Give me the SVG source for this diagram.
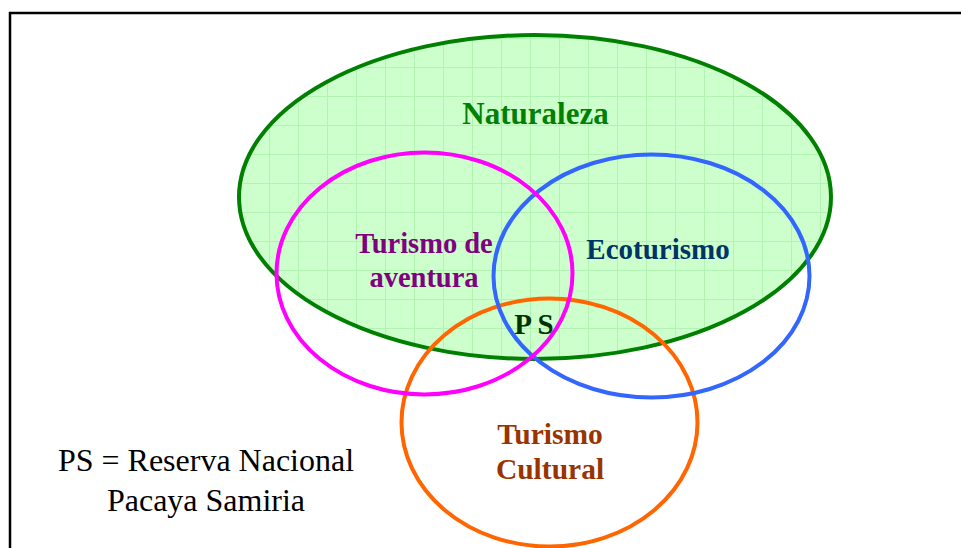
<svg xmlns="http://www.w3.org/2000/svg" width="961" height="548" viewBox="0 0 961 548">
<defs>
<pattern id="grid" width="29" height="29" patternUnits="userSpaceOnUse" x="8" y="9">
<rect width="29" height="29" fill="#ccffcc"/>
<path d="M0 0.5H29M0.5 0V29" stroke="#b2f2b2" stroke-width="1" fill="none"/>
</pattern>
<style>
.ring{fill:none;stroke-width:4}
.lbl{font-family:"Liberation Serif","Times New Roman",serif;font-weight:bold;text-anchor:middle}
.note{font-family:"Liberation Serif","Times New Roman",serif;font-size:32px;fill:#000;text-anchor:middle}
</style>
</defs>
<rect width="961" height="548" fill="#fff"/>
<path d="M10 548V13H961" fill="none" stroke="#000" stroke-width="2.5"/>
<g id="naturaleza">
<ellipse cx="535" cy="197" rx="296" ry="162" fill="url(#grid)" stroke="#008000" stroke-width="4"/>
<text class="lbl" x="535.5" y="124" font-size="31" fill="#008000">Naturaleza</text>
</g>
<g id="turismo-cultural">
<ellipse class="ring" cx="549.5" cy="422.5" rx="148" ry="124" stroke="#ff6600"/>
<text class="lbl" x="550" y="444" font-size="29.5" fill="#993300">Turismo</text>
<text class="lbl" x="550" y="479" font-size="29.5" fill="#993300">Cultural</text>
</g>
<g id="ecoturismo">
<ellipse class="ring" cx="651.5" cy="276" rx="158" ry="121.5" stroke="#3366ff"/>
<text class="lbl" x="658" y="259" font-size="29" fill="#003366">Ecoturismo</text>
</g>
<g id="turismo-aventura">
<ellipse class="ring" cx="424.5" cy="273.5" rx="148" ry="121" stroke="#ff00ff"/>
<text class="lbl" x="424" y="253" font-size="28.5" fill="#800080">Turismo de</text>
<text class="lbl" x="424" y="287" font-size="28.5" fill="#800080">aventura</text>
</g>
<g id="ps">
<text class="lbl" x="534" y="334" font-size="29" fill="#003300">P S</text>
</g>
<g id="leyenda">
<text class="note" x="206" y="471">PS = Reserva Nacional</text>
<text class="note" x="206" y="511">Pacaya Samiria</text>
</g>
</svg>
